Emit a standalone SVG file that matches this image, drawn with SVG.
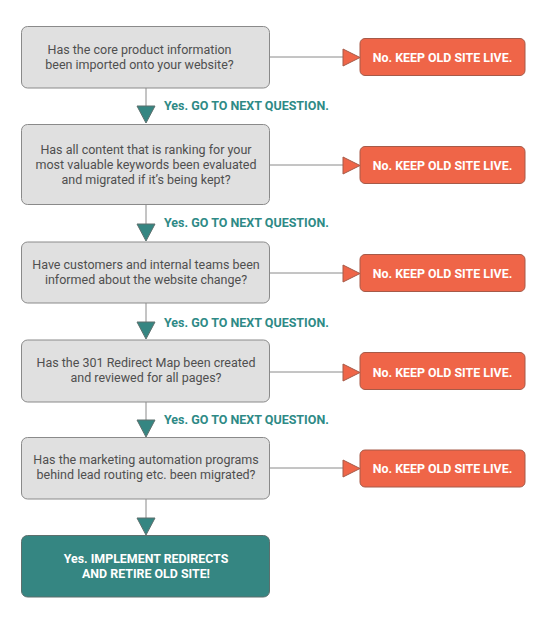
<svg xmlns="http://www.w3.org/2000/svg" width="547" height="623" viewBox="0 0 547 623">
<style>
.q{fill:#e0e0e0;stroke:#8a8a8a;stroke-width:1}
.no{fill:#ef6548;stroke:#a65a48;stroke-width:1}
.end{fill:#358682;stroke:#5d6f6d;stroke-width:1}
.qt{font-family:Roboto,"Liberation Sans",sans-serif;font-size:12.5px;fill:#4f4f4f;text-anchor:middle}
.nt{font-family:Roboto,"Liberation Sans",sans-serif;font-size:12.4px;font-weight:bold;fill:#fff;text-anchor:middle}
.yt{font-family:Roboto,"Liberation Sans",sans-serif;font-size:12.5px;font-weight:bold;fill:#2e8a86}
.ln{stroke:#8a8a8a;stroke-width:1;fill:none}
.ah-r{fill:#ef6548;stroke:#a65a48;stroke-width:1}
.ah-d{fill:#358682;stroke:#5d6f6d;stroke-width:1}
</style>
<rect width="547" height="623" fill="#fff"/>
<g id="connectors">
<path class="ln" d="M270 57H344M270 165H344M270 273H344M270 372H344M270 468H344"/>
<path class="ln" d="M146 88V106M146 205V224M146 303V322M146 402V420M146 499V518"/>
<polygon class="ah-r" points="343,49 360,57.5 343,66"/>
<polygon class="ah-r" points="343,157 360,165.5 343,174"/>
<polygon class="ah-r" points="343,265 360,273.5 343,282"/>
<polygon class="ah-r" points="343,364 360,372.5 343,381"/>
<polygon class="ah-r" points="343,460 360,468.5 343,477"/>
<polygon class="ah-d" points="137,106 155,106 146,123"/>
<polygon class="ah-d" points="137,224 155,224 146,241"/>
<polygon class="ah-d" points="137,322 155,322 146,339"/>
<polygon class="ah-d" points="137,420 155,420 146,437"/>
<polygon class="ah-d" points="137,518 155,518 146,535"/>
<text class="yt" x="164" y="110">Yes. GO TO NEXT QUESTION.</text>
<text class="yt" x="164" y="227">Yes. GO TO NEXT QUESTION.</text>
<text class="yt" x="164" y="327">Yes. GO TO NEXT QUESTION.</text>
<text class="yt" x="164" y="424">Yes. GO TO NEXT QUESTION.</text>
</g>
<g id="q1">
<rect class="q" x="21.5" y="26.5" width="248" height="61.5" rx="6"/>
<text class="qt" x="139.5" y="54">Has the core product information</text>
<text class="qt" x="139.5" y="68.5">been imported onto your website?</text>
</g>
<g id="no1">
<rect class="no" x="360" y="38.5" width="165" height="37" rx="5"/>
<text class="nt" x="442.5" y="61.5">No. KEEP OLD SITE LIVE.</text>
</g>
<g id="q2">
<rect class="q" x="21.5" y="124.5" width="248" height="80" rx="6"/>
<text class="qt" x="146" y="153.5">Has all content that is ranking for your</text>
<text class="qt" x="146" y="168.5">most valuable keywords been evaluated</text>
<text class="qt" x="146" y="183.5">and migrated if it’s being kept?</text>
</g>
<g id="no2">
<rect class="no" x="360" y="146.5" width="165" height="37" rx="5"/>
<text class="nt" x="442.5" y="169.5">No. KEEP OLD SITE LIVE.</text>
</g>
<g id="q3">
<rect class="q" x="21.5" y="242" width="248" height="61" rx="6"/>
<text class="qt" x="146" y="268.5">Have customers and internal teams been</text>
<text class="qt" x="146" y="283.5">informed about the website change?</text>
</g>
<g id="no3">
<rect class="no" x="360" y="254.5" width="165" height="37" rx="5"/>
<text class="nt" x="442.5" y="277.5">No. KEEP OLD SITE LIVE.</text>
</g>
<g id="q4">
<rect class="q" x="21.5" y="340" width="248" height="62" rx="6"/>
<text class="qt" x="146" y="366.5">Has the 301 Redirect Map been created</text>
<text class="qt" x="146" y="381.5">and reviewed for all pages?</text>
</g>
<g id="no4">
<rect class="no" x="360" y="352.5" width="165" height="37" rx="5"/>
<text class="nt" x="442.5" y="376.5">No. KEEP OLD SITE LIVE.</text>
</g>
<g id="q5">
<rect class="q" x="21.5" y="437.5" width="248" height="61.5" rx="6"/>
<text class="qt" x="146" y="464">Has the marketing automation programs</text>
<text class="qt" x="146" y="479">behind lead routing etc. been migrated?</text>
</g>
<g id="no5">
<rect class="no" x="360" y="450" width="165" height="37" rx="5"/>
<text class="nt" x="442.5" y="472.5">No. KEEP OLD SITE LIVE.</text>
</g>
<g id="end">
<rect class="end" x="21.5" y="535.5" width="248" height="61.5" rx="6"/>
<text class="nt" x="146" y="562.5">Yes. IMPLEMENT REDIRECTS</text>
<text class="nt" x="146" y="577.5">AND RETIRE OLD SITE!</text>
</g>
</svg>
